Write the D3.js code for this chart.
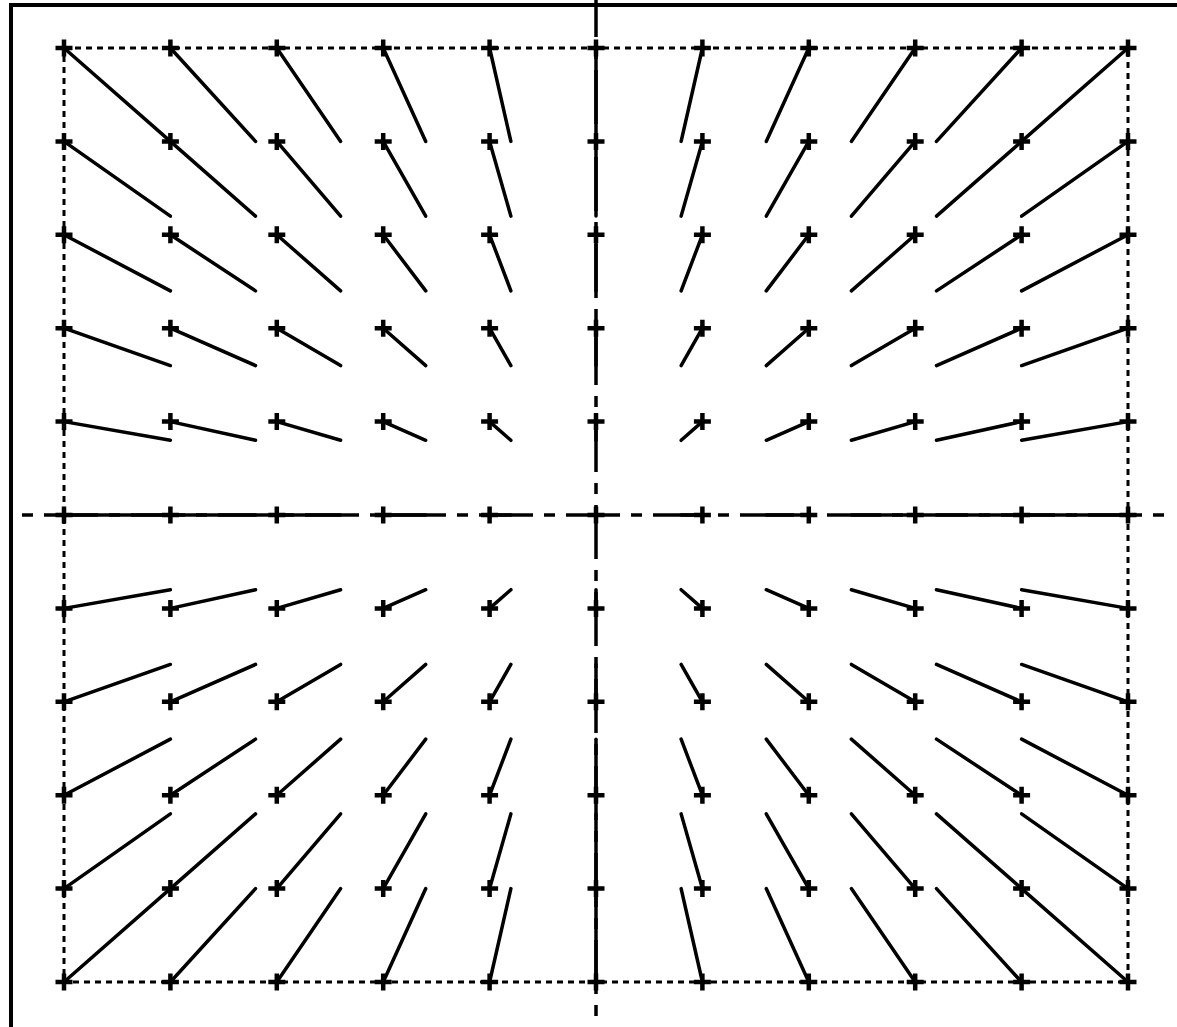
<!DOCTYPE html>
<html>
<head>
<meta charset="utf-8">
<script src="https://cdn.jsdelivr.net/npm/d3@7"></script>
<style>
  body { margin: 0; background: #fff; }
  svg { display: block; }
</style>
</head>
<body>
<svg id="chart" width="1177" height="1027"></svg>
<script>
// grid positions (columns left to right, rows top to bottom)
const xVals = [-5, -4, -3, -2, -1, 0, 1, 2, 3, 4, 5];
const yVals = [5, 4, 3, 2, 1, 0, -1, -2, -3, -4, -5];

// where each grid point's line ends
const endX = [-4, -3.2, -2.4, -1.6, -0.8, 0, 0.8, 1.6, 2.4, 3.2, 4];
const endY = [4, 3.2, 2.4, 1.6, 0.8, 0, -0.8, -1.6, -2.4, -3.2, -4];

const svg = d3.select('#chart');
const W = 1177, H = 1027;

const x = d3.scaleLinear().domain([-5, 5]).range([64, 1128]);
const y = d3.scaleLinear().domain([5, -5]).range([48, 982]);

// outer frame (top + left only)
svg.append('path')
    .attr('d', `M11,${H} L11,5 L${W},5`)
    .attr('fill', 'none')
    .attr('stroke', '#000')
    .attr('stroke-width', 4);

// dotted box round the grid
svg.append('rect')
    .attr('x', x(-5)).attr('y', y(5))
    .attr('width', x(5) - x(-5)).attr('height', y(-5) - y(5))
    .attr('fill', 'none')
    .attr('stroke', '#000')
    .attr('stroke-width', 3)
    .attr('stroke-dasharray', '6,5');

// dash-dot axes through the centre
svg.append('line')
    .attr('x1', 22).attr('x2', 1170)
    .attr('y1', y(0)).attr('y2', y(0))
    .attr('stroke', '#000')
    .attr('stroke-width', 3.5)
    .attr('stroke-dasharray', '11,11,54,11');

svg.append('line')
    .attr('x1', x(0)).attr('x2', x(0))
    .attr('y1', 0).attr('y2', 1017)
    .attr('stroke', '#000')
    .attr('stroke-width', 3.5)
    .attr('stroke-dasharray', '11,11,54,11')
    .attr('stroke-dashoffset', 39);

// one cell per grid point
const cells = [];
yVals.forEach((yv, r) => {
    xVals.forEach((xv, c) => {
        cells.push({x0: xv, y0: yv, x1: endX[c], y1: endY[r]});
    });
});

svg.append('g').selectAll('line')
    .data(cells.filter(d => d.x0 !== d.x1 || d.y0 !== d.y1))
    .join('line')
    .attr('x1', d => x(d.x0)).attr('y1', d => y(d.y0))
    .attr('x2', d => x(d.x1)).attr('y2', d => y(d.y1))
    .attr('stroke', '#000')
    .attr('stroke-width', 3.5)
    .attr('stroke-linecap', 'round');

// + markers
const s = 8.5;
svg.append('g').selectAll('path')
    .data(cells)
    .join('path')
    .attr('d', d => {
        const px = x(d.x0), py = y(d.y0);
        return `M${px - s},${py} L${px + s},${py} M${px},${py - s} L${px},${py + s}`;
    })
    .attr('stroke', '#000')
    .attr('stroke-width', 4.5)
    .attr('fill', 'none');
</script>
</body>
</html>
